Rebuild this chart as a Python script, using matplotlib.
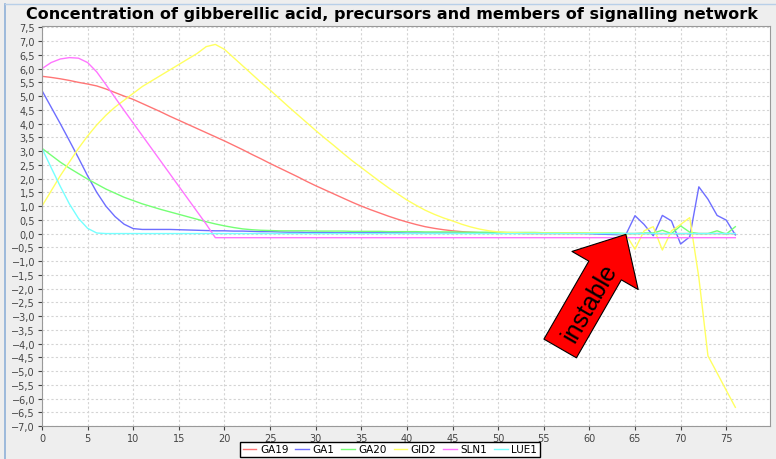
import matplotlib
matplotlib.use("Agg")
import matplotlib.pyplot as plt
from matplotlib.lines import Line2D
from matplotlib.ticker import FuncFormatter, MultipleLocator

# Time steps
t = list(range(77))

# Series values
ga19 = [5.72, 5.68, 5.63, 5.57, 5.50, 5.44, 5.37, 5.26, 5.13, 5.00,
        4.88, 4.73, 4.58, 4.43, 4.27, 4.12, 3.97, 3.82, 3.67, 3.52,
        3.37, 3.21, 3.05, 2.88, 2.72, 2.55, 2.39, 2.23, 2.07, 1.90,
        1.74, 1.59, 1.44, 1.29, 1.14, 1.00, 0.87, 0.75, 0.63, 0.52,
        0.42, 0.33, 0.25, 0.19, 0.14, 0.10, 0.07, 0.05, 0.03, 0.02,
        0.01, 0.01, 0.01, 0.0, 0.0, 0.0, 0.0, 0.0, 0.0, 0.0,
        0.0, -0.01, -0.01, -0.01, 0.0, 0.0, 0.0, 0.0, 0.0, 0.0,
        0.0, 0.0, 0.0, 0.0, 0.0, 0.0, 0.0]
ga1 = [5.20, 4.60, 4.00, 3.38, 2.75, 2.10, 1.50, 1.00, 0.62, 0.34,
       0.18, 0.15, 0.15, 0.15, 0.15, 0.14, 0.13, 0.12, 0.11, 0.10,
       0.10, 0.09, 0.09, 0.08, 0.07, 0.07, 0.06, 0.05, 0.05, 0.04,
       0.04, 0.04, 0.03, 0.03, 0.03, 0.03, 0.03, 0.03, 0.03, 0.03,
       0.02, 0.02, 0.02, 0.02, 0.02, 0.02, 0.02, 0.02, 0.02, 0.02,
       0.01, 0.01, 0.01, 0.01, 0.01, 0.01, 0.01, 0.01, 0.01, 0.01,
       0.0, -0.02, -0.03, -0.04, -0.04, 0.65, 0.33, -0.08, 0.66, 0.46,
       -0.38, -0.12, 1.70, 1.25, 0.66, 0.49, -0.05]
ga20 = [3.10, 2.85, 2.60, 2.38, 2.18, 1.98, 1.80, 1.62, 1.47, 1.32,
        1.20, 1.08, 0.98, 0.88, 0.79, 0.70, 0.61, 0.52, 0.43, 0.35,
        0.28, 0.22, 0.17, 0.14, 0.12, 0.11, 0.10, 0.10, 0.10, 0.10,
        0.09, 0.09, 0.09, 0.09, 0.08, 0.08, 0.08, 0.08, 0.07, 0.07,
        0.07, 0.07, 0.06, 0.06, 0.06, 0.06, 0.05, 0.05, 0.05, 0.05,
        0.05, 0.04, 0.04, 0.04, 0.04, 0.03, 0.03, 0.03, 0.03, 0.03,
        0.02, 0.02, 0.02, 0.02, 0.0, 0.0, 0.02, 0.02, 0.12, 0.0,
        0.28, 0.05, 0.0, 0.0, 0.10, -0.02, 0.25]
gid2 = [1.00, 1.55, 2.10, 2.60, 3.10, 3.55, 3.95, 4.30, 4.60, 4.85,
        5.10, 5.35, 5.55, 5.75, 5.95, 6.15, 6.35, 6.55, 6.80, 6.88,
        6.70, 6.40, 6.10, 5.80, 5.50, 5.22, 4.92, 4.62, 4.33, 4.04,
        3.75, 3.47, 3.20, 2.92, 2.65, 2.40, 2.15, 1.90, 1.66, 1.44,
        1.22, 1.03, 0.85, 0.70, 0.57, 0.46, 0.34, 0.24, 0.16, 0.10,
        0.06, 0.04, 0.03, 0.02, 0.02, 0.02, 0.02, 0.02, 0.02, 0.02,
        0.02, 0.02, 0.01, 0.0, -0.03, -0.57, 0.10, 0.25, -0.60, 0.10,
        0.33, 0.58, -1.60, -4.45, -5.07, -5.70, -6.32]
sln1 = [6.00, 6.22, 6.35, 6.40, 6.38, 6.22, 5.88, 5.42, 4.95, 4.48,
        4.02, 3.56, 3.10, 2.64, 2.18, 1.72, 1.26, 0.80, 0.34, -0.15] + [-0.15] * 57
lue1 = [3.10, 2.40, 1.72, 1.08, 0.55, 0.19, 0.02] + [0.0] * 70

names = ["GA19", "GA1", "GA20", "GID2", "SLN1", "LUE1"]
series = [ga19, ga1, ga20, gid2, sln1, lue1]
colors = ["#FF7575", "#6E6EFF", "#75FF75", "#FFFF60", "#FF75FF", "#75FFFF"]

fig = plt.figure(figsize=(7.76, 4.6), dpi=100, facecolor="#EEEEEE")
ax = fig.add_axes([42 / 776, 1 - 427 / 460, 728 / 776, 400 / 460])
ax.set_facecolor("white")

handles = []
for name, vals, c in zip(names, series, colors):
    ln, = ax.plot(t, vals, color=c, lw=1.0, label=name)
    handles.append(ln)

ax.set_xlim(0, 79.8)
ax.set_ylim(-7.0, 7.55)
ax.xaxis.set_major_locator(MultipleLocator(5))
ax.yaxis.set_major_locator(MultipleLocator(0.5))
ax.yaxis.set_major_formatter(FuncFormatter(lambda v, p: f"{v:.1f}".replace(".", ",").replace("-", "\u2212")))
ax.xaxis.set_major_formatter(FuncFormatter(lambda v, p: f"{v:.0f}"))
ax.tick_params(labelsize=7, colors="#444444", length=3, width=0.8, pad=2)
ax.grid(True, color="#D4D4D4", linestyle=(0, (2, 2)), lw=0.8)
ax.set_axisbelow(True)
for s in ax.spines.values():
    s.set_color("#999999")

# Annotation arrow pointing at the instability
ax.annotate("", xy=(64.0, -0.03), xytext=(56.8, -4.18),
            arrowprops=dict(arrowstyle="simple,head_length=3.0,head_width=5.5,tail_width=2.7",
                            mutation_scale=10, fc="red", ec="black", lw=0.8,
                            shrinkA=0, shrinkB=0))
ax.text(60.05, -2.5, "instable", rotation=60, ha="center", va="center",
        rotation_mode="anchor", fontsize=18, family="Liberation Sans")

fig.text(392 / 776, 1 - 14 / 460,
         "Concentration of gibberellic acid, precursors and members of signalling network",
         ha="center", va="center", fontsize=11.5, fontweight="bold")

leg = fig.legend(handles, names, loc="center", bbox_to_anchor=(390 / 776, 1 - 450.3 / 460),
                 ncol=6, fontsize=7.5, fancybox=False, edgecolor="black", framealpha=1,
                 handlelength=1.3, handletextpad=0.35, columnspacing=0.65, borderpad=0.25)
leg.get_frame().set_linewidth(1.0)

# Window panel border
fig.add_artist(Line2D([5 / 776, 5 / 776], [0, 1 - 5 / 460], transform=fig.transFigure, color="#8FB0D8", lw=1.2))
fig.add_artist(Line2D([5 / 776, 1], [1 - 5 / 460, 1 - 5 / 460], transform=fig.transFigure, color="#B8CFE8", lw=1.0))

fig.savefig("out.png", dpi=100, facecolor=fig.get_facecolor())
